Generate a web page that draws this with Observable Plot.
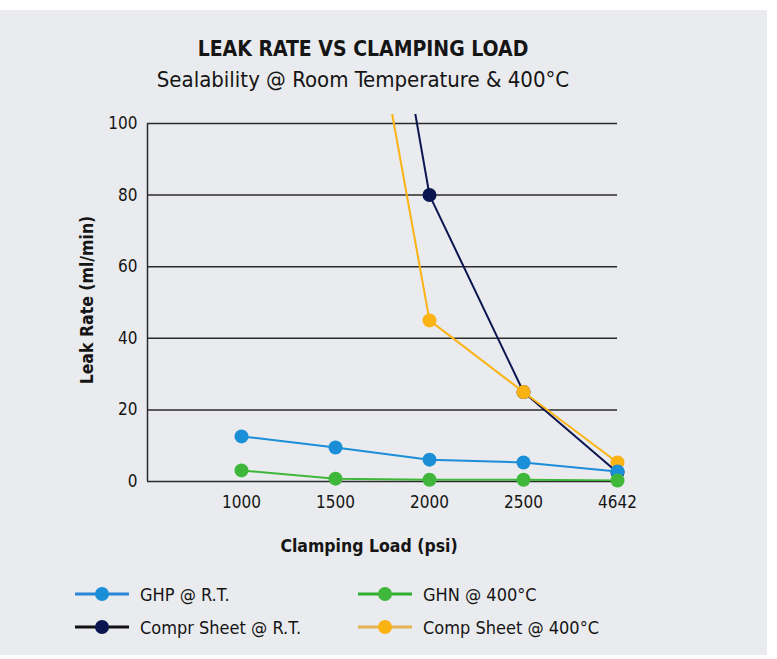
<!DOCTYPE html>
<html><head><meta charset="utf-8">
<script src="https://cdn.jsdelivr.net/npm/d3@7"></script>
<script src="https://cdn.jsdelivr.net/npm/@observablehq/plot@0.6"></script>
<style>
body{margin:0;background:#fff;font-family:"DejaVu Sans Condensed","Liberation Sans Narrow","Noto Sans",sans-serif;color:#151515;}
#wrap{position:relative;width:777px;height:659px;overflow:hidden;}
#bg{position:absolute;left:0;top:10px;width:767px;height:645px;background:#e9ebee;}
.t{position:absolute;white-space:nowrap;text-align:center;}
#chart{position:absolute;left:0;top:105px;}
.leg{position:absolute;display:flex;align-items:center;font-size:18px;white-space:nowrap;}
.leg svg{margin-right:11px;}
</style></head>
<body>
<div id="wrap">
<div id="bg"></div>
<div class="t" id="title" style="left:113px;width:500px;top:36px;line-height:26px;font-size:21px;font-weight:600;">LEAK RATE VS CLAMPING LOAD</div>
<div class="t" id="sub" style="left:63px;width:600px;top:67px;line-height:26px;font-size:22px;">Sealability @ Room Temperature &amp; 400°C</div>
<div id="chart"></div>
<div class="t" id="ylab" style="left:-13px;width:200px;top:289px;line-height:22px;font-size:17.5px;font-weight:bold;transform:rotate(-90deg);">Leak Rate (ml/min)</div>
<div class="t" id="xlab" style="left:219px;width:300px;top:535px;line-height:22px;font-size:17.5px;font-weight:bold;">Clamping Load (psi)</div>
<div id="legend"></div>
</div>
<script>
const loads = ["1000", "1500", "2000", "2500", "4642"];
const seriesNames = ["GHP @ R.T.", "GHN @ 400°C", "Compr Sheet @ R.T.", "Comp Sheet @ 400°C"];
const seriesColors = ["#1b8ed8", "#3fb73a", "#0b1550", "#fbb314"];
const legendLineColors = ["#2a86d6", "#2fae2f", "#111111", "#e6b352"];
const ghpRT = [12.6, 9.5, 6.1, 5.3, 2.8];
const ghn400 = [3.1, 0.8, 0.5, 0.5, 0.3];
const comprRT = [null, 230, 80, 25, 2.5];
const comp400 = [null, 190, 45, 25, 5.3];
const yTicks = [0, 20, 40, 60, 80, 100];

const seriesValues = [ghpRT, ghn400, comprRT, comp400];
const rows = [];
seriesValues.forEach((vals, s) => {
  vals.forEach((v, i) => {
    if (v != null) rows.push({series: seriesNames[s], x: i + 1, y: v});
  });
});
const drawOrder = [2, 3, 0, 1];
const xIdx = loads.map((d, i) => i + 1);
const yMax = 102.5;

const marks = [
  Plot.ruleY(yTicks, {x1: 0, x2: loads.length, stroke: "#2b2b2b", strokeWidth: 1.5}),
  Plot.ruleX([0], {y1: 0, y2: 100, stroke: "#2b2b2b", strokeWidth: 1.5}),
  Plot.axisY({ticks: yTicks, tickSize: 0, tickPadding: 10, fontSize: 17, label: null}),
  Plot.axisX({ticks: xIdx, tickSize: 0, tickPadding: 14, fontSize: 17, label: null,
    tickFormat: (d) => loads[d - 1]})
];
for (const s of drawOrder) {
  const data = rows.filter(r => r.series === seriesNames[s]);
  marks.push(Plot.line(data, {x: "x", y: "y", stroke: seriesColors[s], strokeWidth: 2, clip: true}));
  marks.push(Plot.dot(data.filter(r => r.y <= yMax), {x: "x", y: "y", r: 7, fill: seriesColors[s]}));
}

const chart = Plot.plot({
  width: 777,
  height: 460,
  marginLeft: 147,
  marginRight: 160,
  marginTop: 9,
  marginBottom: 84,
  style: {background: "transparent", fontFamily: '"DejaVu Sans Condensed","Liberation Sans Narrow","Noto Sans",sans-serif', color: "#151515"},
  x: {type: "linear", domain: [0, loads.length]},
  y: {domain: [0, yMax]},
  marks
});
document.getElementById("chart").appendChild(chart);

const legPos = [[75, 594], [358, 594], [75, 627], [358, 627]];
const legend = document.getElementById("legend");
seriesNames.forEach((name, i) => {
  const el = document.createElement("div");
  el.className = "leg";
  el.style.left = legPos[i][0] + "px";
  el.style.top = (legPos[i][1] - 11) + "px";
  el.style.height = "22px";
  el.innerHTML = `<svg width="54" height="18"><line x1="0" x2="54" y1="9" y2="9" stroke="${legendLineColors[i]}" stroke-width="3"/><circle cx="27" cy="9" r="7" fill="${seriesColors[i]}"/></svg><span>${name}</span>`;
  legend.appendChild(el);
});
</script>
</body></html>
